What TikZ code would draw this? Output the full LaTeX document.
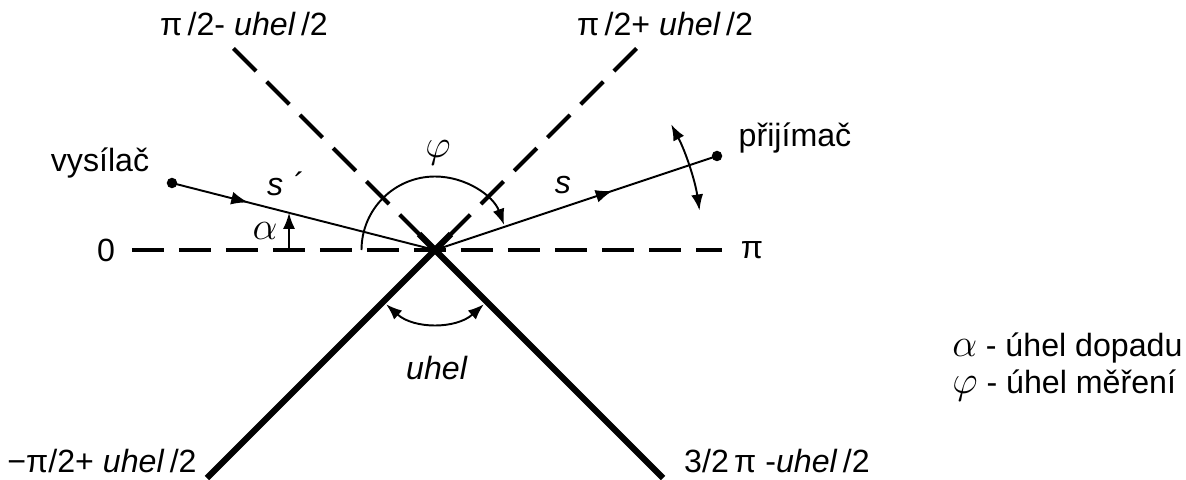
\documentclass[tikz,border=0pt]{standalone}
\usepackage{fontspec}
\setmainfont{Liberation Sans}
\usetikzlibrary{positioning,arrows.meta,decorations.markings,calc}
\newcommand{\galpha}{\scalebox{1.3}{\usefont{OML}{cmm}{m}{it}\char"0B}}
\newcommand{\gvarphi}{\scalebox{1.3}{\usefont{OML}{cmm}{m}{it}\char"27}}

\begin{document}
\begin{tikzpicture}[
    lbl/.style={font=\fontsize{18.3}{22}\selectfont, inner sep=0pt},
    axisline/.style={draw=black, line width=2.3pt, dash pattern=on 0.64cm off 0.3cm},
    wall/.style={draw=black, line width=3.6pt},
    ray/.style={draw=black, line width=1.1pt},
    dot/.style={circle, fill=black, inner sep=0pt, minimum size=0.21cm},
    tip/.style={-{Latex[length=0.32cm, width=0.24cm]}, draw=black, line width=1.1pt},
    both/.style={{Latex[length=0.32cm, width=0.24cm]}-{Latex[length=0.32cm, width=0.24cm]}, draw=black, line width=1.1pt},
    midarrow/.style={postaction={decorate}, decoration={markings, mark=at position #1 with {\arrow{Latex[length=0.34cm, width=0.26cm]}}}}
  ]
  \useasboundingbox (-8.70,-4.58) rectangle (15.02,5.0);
  \coordinate (o) at (0,0);

  % dashed directions
  \coordinate (h0) at (-6.06,0);
  \coordinate (hpi) at (5.74,0);
  \coordinate (dl) at (135:5.7);
  \coordinate (dr) at (45:5.7);
  \draw[axisline] (h0) -- (hpi);
  \draw[axisline] (dl) -- (o);
  \draw[axisline] (dr) -- (o);

  % walls
  \coordinate (wl) at (225:6.45);
  \coordinate (wr) at (315:6.45);
  \draw[wall] (45:0.45) -- (wl);
  \draw[wall] (135:0.45) -- (wr);

  % sender and receiver
  \node[dot] (tx) at (-5.26,1.34) {};
  \node[dot] (rx) at (5.64,1.88) {};
  \draw[ray, midarrow=0.29] (tx.center) -- (o);
  \draw[ray, midarrow=0.63] (o) -- (rx.center);

  % angles
  \coordinate (a0) at (-2.92,0);
  \coordinate (a1) at ($(tx)!0.445!(o)$);
  \draw[tip] (a0) -- (a1);
  \draw[tip] ($(o)+(180:1.47)$) arc[start angle=180, end angle=20, radius=1.47];
  \draw[both] ($(o)+(228:1.46)$) arc[start angle=228, end angle=312, radius=1.46];
  \draw[both] ($(o)+(28:5.35)$) arc[start angle=28, end angle=8.5, radius=5.35];

  % labels
  \node[lbl] (zero) at (-6.58,0) {0};
  \node[lbl] (pi) at (6.34,0) {π};
  \node[lbl] (tl) at (-3.82,4.52) {π\,/2- \textit{uhel}\,/2};
  \node[lbl] (tr) at (4.6,4.52) {π\,/2+ \textit{uhel}\,/2};
  \node[lbl] (bl) at (-6.66,-4.22) {−π/2+ \textit{uhel}\,/2};
  \node[lbl] (br) at (6.84,-4.22) {3/2\,π -\textit{uhel}\,/2};
  \node[lbl] (txl) at (-6.7,1.74) {vysílač};
  \node[lbl] (rxl) at (7.2,2.24) {přijímač};
  \node[lbl] (sp) at (-2.98,1.32) {\textit{s}\,\,´};
  \node[lbl] (s) at (2.56,1.3) {\textit{s}};
  \node[lbl] (al) at (-3.4,0.38) {\galpha};
  \node[lbl] (ph) at (0.06,1.94) {\gvarphi};
  \node[lbl] (uh) at (0.04,-2.36) {\textit{uhel}};

  % legend
  \node[lbl, anchor=base west] (leg1) at (10.34,-2.12) {\galpha\ - úhel dopadu};
  \node[lbl, anchor=base west] (leg2) at (10.34,-2.86) {\gvarphi\ - úhel měření};
\end{tikzpicture}
\end{document}
